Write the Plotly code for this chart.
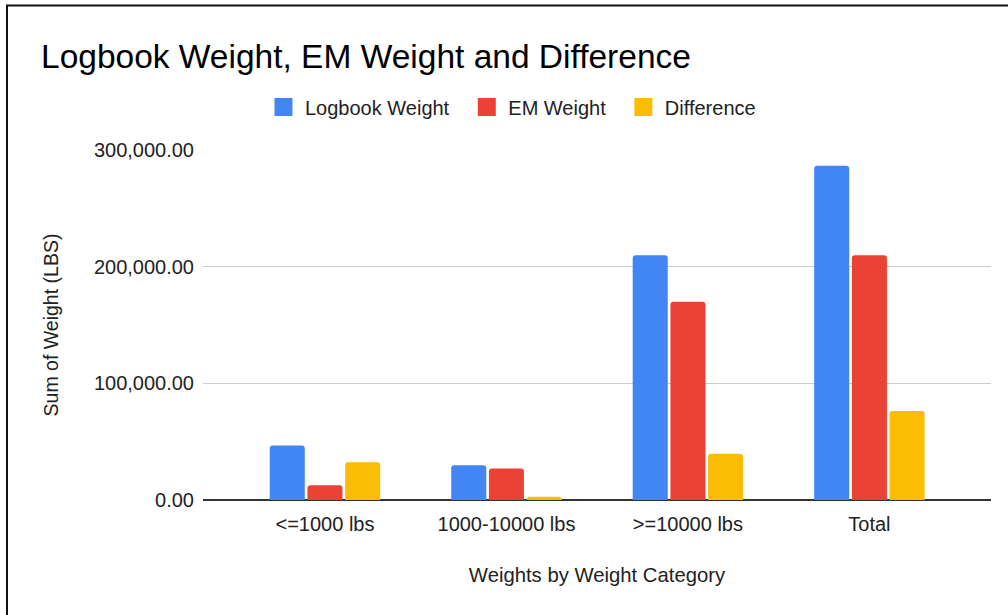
import plotly.graph_objects as go

categories = ["<=1000 lbs", "1000-10000 lbs", ">=10000 lbs", "Total"]
logbook_weight = [46700, 29800, 209800, 286600]
em_weight = [12600, 27000, 170000, 209800]
difference = [32400, 2800, 39600, 76300]

series_names = ["Logbook Weight", "EM Weight", "Difference"]
colors = ["#4285F4", "#EA4335", "#FBBC04"]
y_ticks = [0, 100000, 200000, 300000]

FONT = "Liberation Sans, Arial, sans-serif"
PAD = "\u00a0\u00a0"

fig = go.Figure()
for name, vals, col in zip(series_names, [logbook_weight, em_weight, difference], colors):
    fig.add_trace(go.Bar(name=name, x=categories, y=vals, marker_color=col,
                         marker_line_width=0, showlegend=False, legendgroup=name))
# legend entries with larger square swatches
for name, col in zip(series_names, colors):
    fig.add_trace(go.Scatter(name=name + PAD, x=[None], y=[None], mode="markers",
                             marker=dict(symbol="square", size=16, color=col,
                                         line=dict(color=col, width=2)),
                             legendgroup=name, showlegend=True))

W, H = 1008, 615
L, R, T, B = 203, 17, 150, 115
pw, ph = W - L - R, H - T - B

def px(x):
    return (x - L) / pw

def py(y):
    return (H - B - y) / ph

fig.update_layout(
    width=W, height=H,
    margin=dict(l=L, r=R, t=T, b=B, pad=0),
    paper_bgcolor="white", plot_bgcolor="white",
    font=dict(family=FONT, color="#222222", size=20),
    barmode="group", bargap=0.377, bargroupgap=0.07,
    barcornerradius=3,
    title=dict(text="Logbook Weight, EM Weight and Difference",
               font=dict(size=33.5, color="#000000", family=FONT),
               x=41 / W, xanchor="left", xref="container",
               y=1 - 56 / H, yanchor="middle", yref="container"),
    legend=dict(orientation="h", x=px(517), xanchor="center",
                y=py(107), yanchor="middle",
                font=dict(size=20, color="#222222"),
                itemwidth=33, traceorder="normal"),
    xaxis=dict(range=[-0.672, 3.67], showgrid=False, showline=False,
               ticks="", ticklabelstandoff=10,
               tickfont=dict(size=20, color="#222222"),
               title=dict(text="Weights by Weight Category",
                          font=dict(size=20.3, color="#222222"), standoff=33)),
    yaxis=dict(range=[0, 300000], tickvals=y_ticks,
               ticktext=[f"{v:,.2f}" for v in y_ticks],
               showgrid=True, gridcolor="#cccccc", gridwidth=1,
               zeroline=True, zerolinecolor="#333333", zerolinewidth=1.5,
               ticks="", ticklabelstandoff=8,
               tickfont=dict(size=20, color="#222222"),
               title=dict(text="Sum of Weight (LBS)",
                          font=dict(size=19.5, color="#222222"), standoff=30)),
)

# outer frame of the screenshot (top and left edges)
fig.add_shape(type="line", xref="paper", yref="paper",
              x0=px(6), x1=px(W + 5), y0=py(5.5), y1=py(5.5),
              line=dict(color="#111111", width=2))
fig.add_shape(type="line", xref="paper", yref="paper",
              x0=px(7), x1=px(7), y0=py(5), y1=py(H + 5),
              line=dict(color="#111111", width=2))

fig.write_html("out.html", config={"displayModeBar": False},
               post_script="document.body.style.margin='0';document.body.style.overflow='hidden';")
